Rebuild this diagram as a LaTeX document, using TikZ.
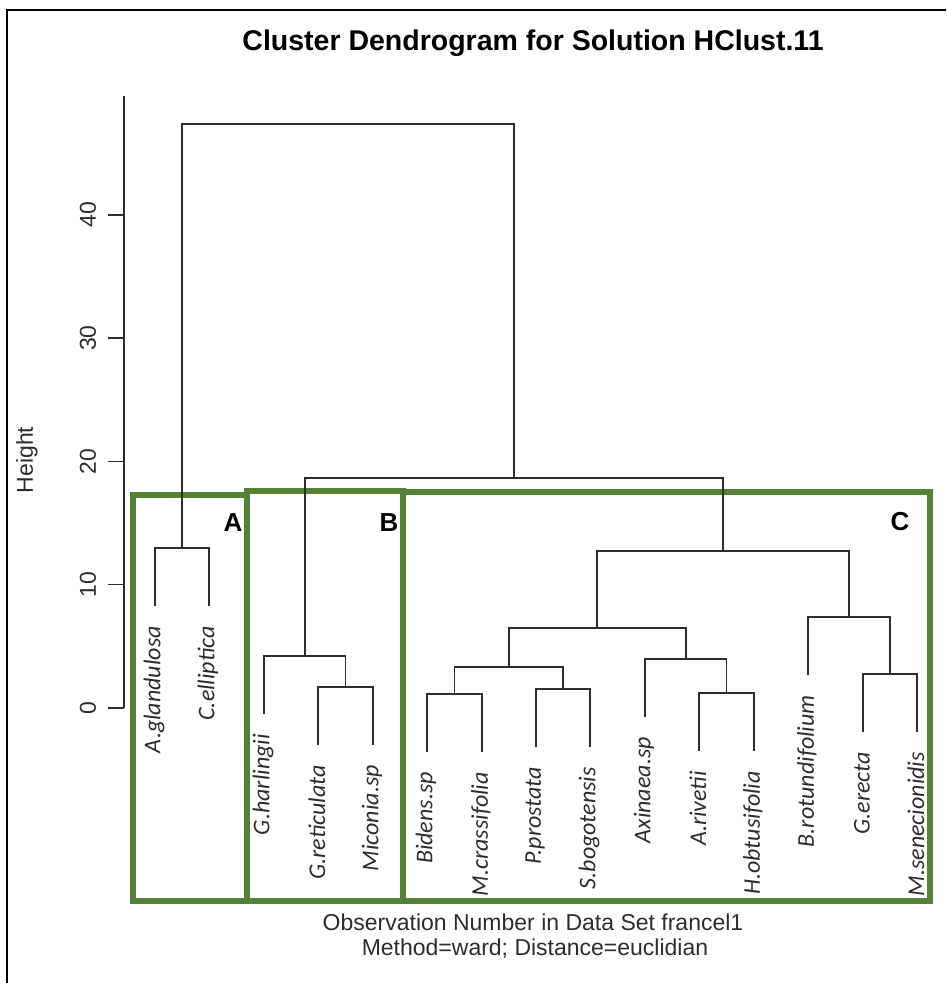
\documentclass[tikz,border=0pt]{standalone}
\usepackage{fontspec}
\setmainfont{Liberation Sans}
\newfontfamily\leaffont{Carlito}
\usetikzlibrary{calc}
\definecolor{boxgreen}{RGB}{84,130,53}
\definecolor{ink}{RGB}{45,45,45}
\begin{document}
\begin{tikzpicture}[x=1pt,y=-1pt,
  link/.style={draw=ink, line width=1.8pt},
  axisline/.style={draw=ink, line width=1.5pt},
  leaflab/.style={font=\leaffont\itshape\fontsize{24}{24}\selectfont, rotate=90, anchor=east, inner sep=0pt, text=ink},
  ticklab/.style={font=\fontsize{23}{23}\selectfont, rotate=90, inner sep=0pt, text=ink},
  clusterbox/.style={draw=boxgreen, line width=5.5pt},
  boxlab/.style={font=\bfseries\fontsize{26}{26}\selectfont, inner sep=0pt},
  plaintext/.style={font=\fontsize{23}{23}\selectfont, inner sep=0pt, text=ink},
  ]
\useasboundingbox (0,0) rectangle (946,983);
% outer frame
\draw[line width=2pt] (7,983) -- (7,10) -- (946,10);

% title
\node[font=\bfseries\fontsize{28.5}{30}\selectfont, inner sep=0pt] (title) at (533,43) {Cluster Dendrogram for Solution HClust.11};

% y axis
\coordinate (axtop) at (124,96);
\coordinate (axbot) at (124,708);
\draw[axisline] (axtop) -- (axbot);
\foreach \v/\yy in {0/708,10/584.7,20/461.4,30/338.1,40/214.8}{
  \coordinate (tk\v) at (124,\yy);
  \coordinate (tkl\v) at (108,\yy);
  \draw[axisline] (tk\v) -- (tkl\v);
  \node[ticklab] (tlab\v) at (88,\yy) {\v};
}
\node[ticklab] (ylab) at (27,460) {Height};

% cluster boxes
\draw[clusterbox] (133,495) rectangle (247,901);
\draw[clusterbox] (247,491) rectangle (403,901);
\draw[clusterbox] (403,492) rectangle (930,901);
\node[boxlab] (labA) at (233,523) {A};
\node[boxlab] (labB) at (389,523) {B};
\node[boxlab] (labC) at (900,522) {C};

% leaves (ends)
\coordinate (l1) at (155,606);
\coordinate (l2) at (209,606);
\coordinate (l3) at (264,714);
\coordinate (l4) at (318,745);
\coordinate (l5) at (373,745);
\coordinate (l6) at (427,752);
\coordinate (l7) at (482,752);
\coordinate (l8) at (536,747);
\coordinate (l9) at (590,747);
\coordinate (l10) at (645,717);
\coordinate (l11) at (699,751);
\coordinate (l12) at (754,751);
\coordinate (l13) at (808,675);
\coordinate (l14) at (863,732);
\coordinate (l15) at (917,732);

% merges
\coordinate (mA) at (182,548);
\coordinate (mB2) at (345.5,687);
\coordinate (mB) at (304.75,656);
\coordinate (m1) at (454.5,694);
\coordinate (m2) at (563,689);
\coordinate (m3) at (508.75,667);
\coordinate (m4) at (726.5,693);
\coordinate (m5) at (685.75,659);
\coordinate (m6) at (597.25,628);
\coordinate (m7) at (890,674);
\coordinate (m8) at (849,617);
\coordinate (mC) at (723.1,551);
\coordinate (mR) at (513.9,478);
\coordinate (root) at (348,124);

% links
\foreach \p/\c in {root/mA, root/mR, mA/l1, mA/l2, mR/mB, mR/mC,
  mB/l3, mB/mB2, mB2/l4, mB2/l5, mC/m6, mC/m8, m6/m3, m6/m5,
  m3/m1, m3/m2, m1/l6, m1/l7, m2/l8, m2/l9, m5/l10, m5/m4,
  m4/l11, m4/l12, m8/l13, m8/m7, m7/l14, m7/l15}{
  \draw[link] (\p) -| (\c);
}

% leaf labels
\foreach \i/\t in {1/A.glandulosa, 2/C.elliptica, 3/G.harlingii, 4/G.reticulata,
  5/Miconia.sp, 6/Bidens.sp, 7/M.crassifolia, 8/P.prostata, 9/S.bogotensis,
  10/Axinaea.sp, 11/A.rivetii, 12/H.obtusifolia, 13/B.rotundifolium,
  14/G.erecta, 15/M.senecionidis}{
  \node[leaflab] (t\i) at ($(l\i)+(-1,20)$) {\t};
}

% x axis caption
\node[plaintext] (cap1) at (533,922) {Observation Number in Data Set francel1};
\node[plaintext] (cap2) at (535,949) {Method=ward; Distance=euclidian};
\end{tikzpicture}
\end{document}
